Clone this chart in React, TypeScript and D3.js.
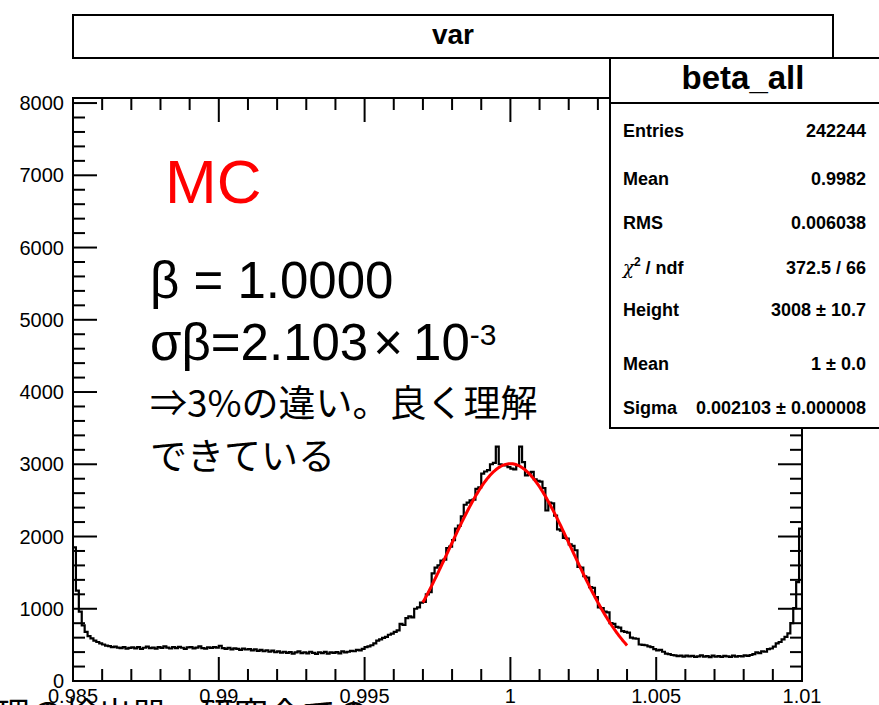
import React from 'react';
import * as d3 from 'd3';

// Histogram "beta_all": 250 bins of width 1e-4 between 0.985 and 1.010
const binLow = 0.985;
const binHigh = 1.01;
const counts: number[] = [
  1850, 1250, 960, 770, 680, 620, 590, 560, 540, 520,
  505, 490, 482, 470, 475, 462, 455, 470, 448, 458,
  466, 452, 470, 445, 460, 476, 455, 462, 448, 470,
  458, 480, 462, 450, 468, 455, 472, 460, 445, 465,
  470, 452, 463, 478, 455, 448, 466, 458, 470, 462,
  488, 455, 446, 460, 438, 452, 444, 430, 448, 436,
  442, 425, 438, 418, 430, 412, 426, 405, 420, 398,
  410, 392, 405, 388, 400, 380, 396, 410, 385, 398,
  382, 405, 390, 376, 398, 385, 402, 378, 395, 388,
  400, 382, 410, 395, 405, 418, 412, 430, 425, 445,
  470, 478, 495, 520, 560, 575, 598, 612, 640, 655,
  680, 700, 790, 775, 870, 895, 880, 1000, 1020, 1085,
  1095, 1200, 1230, 1490, 1570, 1600, 1665, 1680, 1840, 1860,
  1950, 2110, 2150, 2280, 2440, 2470, 2500, 2510, 2660, 2680,
  2870, 2900, 2920, 3000, 3020, 3245, 3000, 2990, 2985, 2960,
  2940, 2930, 2985, 3245, 3030, 2845, 2880, 2895, 2790, 2770,
  2760, 2670, 2360, 2470, 2460, 2290, 2100, 2080, 1980, 1970,
  1890, 1870, 1810, 1580, 1570, 1450, 1430, 1300, 1290, 1160,
  1020, 1010, 960, 950, 800, 790, 750, 740, 690, 680,
  670, 600, 590, 585, 505, 500, 495, 480, 470, 440,
  425, 430, 405, 380, 372, 360, 355, 345, 350, 338,
  352, 340, 348, 335, 342, 356, 338, 345, 330, 350,
  336, 345, 332, 348, 340, 335, 352, 338, 346, 340,
  355, 348, 360, 372, 395, 385, 410, 405, 440, 450,
  475, 520, 540, 575, 610, 660, 800, 1010, 1370, 2110,
];

// Gaussian fit: height, mean, sigma, and the fitted range
const fitParams = [3008, 1.0, 0.002103];
const fitRange = [0.997, 1.004];

const xTickValues = [0.985, 0.99, 0.995, 1, 1.005, 1.01];
const xTickLabels = ['0.985', '0.99', '0.995', '1', '1.005', '1.01'];
const yTickValues = [0, 1000, 2000, 3000, 4000, 5000, 6000, 7000, 8000];
const yTickLabels = ['0', '1000', '2000', '3000', '4000', '5000', '6000', '7000', '8000'];
const yMax = 8070;

const statLabels = ['Entries', 'Mean', 'RMS', 'chi', 'Height', 'Mean', 'Sigma'];
const statValues = ['242244', '0.9982', '0.006038', '372.5 / 66', '3008 ± 10.7', '1 ± 0.0', '0.002103 ± 0.000008'];
const statRowY = [137, 185, 229, 274, 316, 370, 414];

const W = 879;
const H = 705;
const frame = { left: 73, right: 802, top: 98, bottom: 681 };
const rootFont = '"Liberation Sans", Arial, Helvetica, sans-serif';
const slideFont = '"Liberation Sans", Arial, "Noto Sans CJK JP", sans-serif';
const jpFont = '"Noto Sans CJK JP", sans-serif';

export default function App() {
  const x = d3.scaleLinear().domain([binLow, binHigh]).range([frame.left, frame.right]);
  const y = d3.scaleLinear().domain([0, yMax]).range([frame.bottom, frame.top]);
  const nBins = counts.length;
  const binW = (binHigh - binLow) / nBins;

  const stepPts: [number, number][] = counts.map((c, i) => [binLow + i * binW, c]);
  stepPts.push([binHigh, counts[nBins - 1]]);
  const histPath = d3
    .line<[number, number]>()
    .x((d) => x(d[0]))
    .y((d) => y(d[1]))
    .curve(d3.curveStepAfter)(stepPts);

  const [amp, mu, sig] = fitParams;
  const fitXs = d3.range(0, 201).map((k) => fitRange[0] + ((fitRange[1] - fitRange[0]) * k) / 200);
  const fitPath = d3
    .line<number>()
    .x((v) => x(v))
    .y((v) => y(amp * Math.exp(-0.5 * ((v - mu) / sig) ** 2)))
    .curve(d3.curveLinear)(fitXs);

  const xMinor = d3.range(0, 26).map((k) => binLow + k * 0.001);
  const yMinor = d3.range(0, 41).map((k) => k * 200);
  const majLen = 24;
  const minLen = 12;

  return (
    <svg
      width={W}
      height={H}
      style={{ position: 'absolute', left: 0, top: 0, background: '#fff' }}
      xmlns="http://www.w3.org/2000/svg"
    >
      <rect x={0} y={0} width={W} height={H} fill="#fff" />
      <defs>
        <clipPath id="frameClip">
          <rect x={frame.left} y={frame.top} width={frame.right - frame.left} height={frame.bottom - frame.top} />
        </clipPath>
      </defs>

      {/* histogram and fit */}
      <g clipPath="url(#frameClip)">
        <path d={histPath || ''} fill="none" stroke="#000" strokeWidth={2.2} />
        <path d={fitPath || ''} fill="none" stroke="#ff0000" strokeWidth={3} />
      </g>

      {/* axis ticks: bottom/top and left/right */}
      <g stroke="#000" strokeWidth={2}>
        {xMinor.map((v, k) => {
          const len = k % 5 === 0 ? majLen : minLen;
          const px = x(v);
          return (
            <g key={'xt' + k}>
              <line x1={px} x2={px} y1={frame.bottom} y2={frame.bottom - len} />
              <line x1={px} x2={px} y1={frame.top} y2={frame.top + len} />
            </g>
          );
        })}
        {yMinor.map((v, k) => {
          const len = k % 5 === 0 ? majLen : minLen;
          const py = y(v);
          return (
            <g key={'yt' + k}>
              <line x1={frame.left} x2={frame.left + len} y1={py} y2={py} />
              <line x1={frame.right} x2={frame.right - len} y1={py} y2={py} />
            </g>
          );
        })}
      </g>

      <rect
        x={frame.left}
        y={frame.top}
        width={frame.right - frame.left}
        height={frame.bottom - frame.top}
        fill="none"
        stroke="#000"
        strokeWidth={2}
      />

      {/* tick labels */}
      <g fontFamily={rootFont} fontSize={20} fill="#000">
        {yTickValues.map((v, k) => (
          <text key={'yl' + k} x={64} y={y(v) + 7} textAnchor="end">
            {yTickLabels[k]}
          </text>
        ))}
        {xTickValues.map((v, k) => (
          <text key={'xl' + k} x={x(v)} y={703} textAnchor="middle">
            {xTickLabels[k]}
          </text>
        ))}
      </g>

      {/* title box */}
      <rect x={73} y={15} width={760} height={43} fill="#fff" stroke="#000" strokeWidth={2} />
      <text x={453} y={44} textAnchor="middle" fontFamily={rootFont} fontWeight="bold" fontSize={28}>
        var
      </text>

      {/* statistics box */}
      <rect x={610} y={58} width={300} height={370} fill="#fff" stroke="#000" strokeWidth={2} />
      <line x1={610} x2={879} y1={103} y2={103} stroke="#000" strokeWidth={2} />
      <text x={743} y={89} textAnchor="middle" fontFamily={rootFont} fontWeight="bold" fontSize={33}>
        beta_all
      </text>
      <g fontFamily={rootFont} fontWeight="bold" fontSize={18} fill="#000">
        {statLabels.map((lab, k) => (
          <text key={'sl' + k} x={623} y={statRowY[k]}>
            {lab === 'chi' ? (
              <>
                <tspan fontFamily='"DejaVu Serif", serif' fontWeight="normal" fontStyle="italic">χ</tspan>
                <tspan dy={-8} fontSize={12}>2</tspan>
                <tspan dy={8}> / ndf</tspan>
              </>
            ) : (
              lab
            )}
          </text>
        ))}
        {statValues.map((val, k) => (
          <text key={'sv' + k} x={866} y={statRowY[k]} textAnchor="end">
            {val}
          </text>
        ))}
      </g>

      {/* annotations */}
      <text x={165} y={203} fontFamily={slideFont} fontSize={62} fill="#ff0000">
        MC
      </text>
      <text x={150} y={298} fontFamily={slideFont} fontSize={51} fill="#000">
        β = 1.0000
      </text>
      <text x={150} y={360} fontFamily={slideFont} fontSize={51} fill="#000">
        σβ=2.103
        <tspan dx={5}>×</tspan>
        <tspan dx={10}>10</tspan>
        <tspan dy={-15} fontSize={30}>-3</tspan>
      </text>
      <text x={150} y={417} fontFamily={jpFont} fontSize={37} fill="#000">
        ⇒3%の違い。良く理解
      </text>
      <text x={150} y={470} fontFamily={jpFont} fontSize={37} fill="#000">
        できている
      </text>
      <text x={-4} y={727} fontFamily={jpFont} fontSize={34} fill="#000">
        理の検出器。研究会での
      </text>
    </svg>
  );
}
